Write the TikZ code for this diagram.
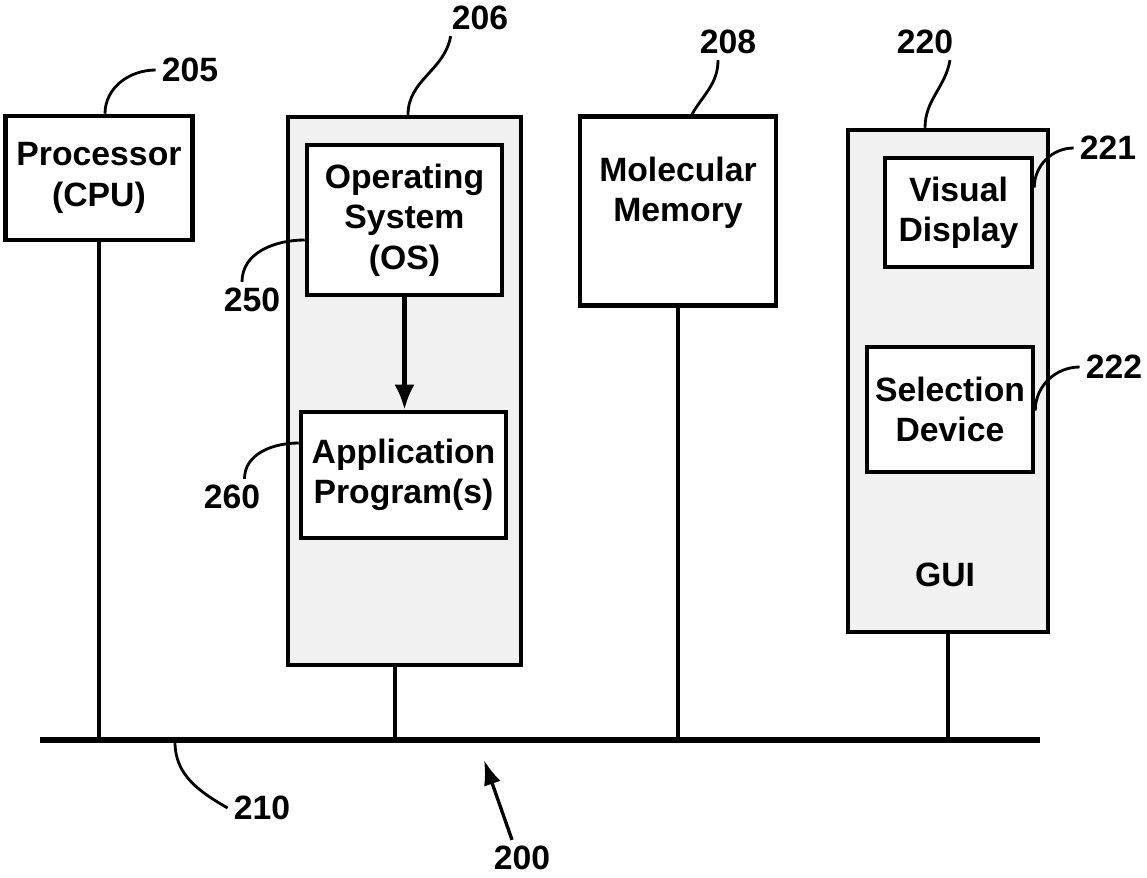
\documentclass[tikz,border=0pt]{standalone}
\usepackage{fontspec}
\setmainfont{Liberation Sans}
\usetikzlibrary{arrows.meta,positioning}

\begin{document}
\begin{tikzpicture}[x=0.02cm,y=-0.02cm,
	every node/.style={font=\fontsize{19.2}{23}\selectfont\bfseries},
	blk/.style={rectangle,draw,line width=2.6pt,fill=white,align=center,inner sep=0pt},
	shell/.style={blk,fill=gray!11},
	drop/.style={line width=1.8pt},
	lead/.style={line width=1.6pt}]
	\useasboundingbox (0,0) rectangle (1147,877);

	% outer boxes
	\node[shell,minimum width=4.66cm,minimum height=10.96cm] (soft) at (404.5,391) {};
	\node[shell,minimum width=4.0cm,minimum height=10.04cm] (gui) at (948,381) {};

	% blocks
	\node[blk,minimum width=3.74cm,minimum height=2.48cm] (cpu) at (99,178) {Processor\\(CPU)};
	\node[blk,minimum width=3.9cm,minimum height=3.0cm] (os) at (404.5,220) {Operating\\System\\(OS)};
	\node[blk,minimum width=4.1cm,minimum height=2.52cm] (app) at (403.5,475) {Application\\Program(s)};
	\node[blk,minimum width=3.92cm,minimum height=3.78cm] (mem) at (678,211) {};
	\node[align=center] (memtxt) at (678,193) {Molecular\\Memory};
	\node[blk,minimum width=2.94cm,minimum height=2.18cm] (disp) at (958.5,212.5) {Visual\\Display};
	\node[blk,minimum width=3.32cm,minimum height=2.5cm] (sel) at (950,409.5) {Selection\\Device};
	\node (guitxt) at (945,575) {GUI};

	% reference numerals
	\node (l205) at (190,70) {205};
	\node (l206) at (480,18) {206};
	\node (l208) at (728,42) {208};
	\node (l220) at (925,42) {220};
	\node (l221) at (1108,148) {221};
	\node (l222) at (1114,367) {222};
	\node (l250) at (252,300) {250};
	\node (l260) at (232,497) {260};
	\node (l210) at (262,808) {210};
	\node (l200) at (522,858) {200};

	% bus
	\coordinate (busL) at (40,740);
	\coordinate (busR) at (1040,740);
	\coordinate (b210) at (175,742);
	\coordinate (b200) at (484,760);
	\draw[line width=3.6pt] (busL) -- (busR);
	\draw[drop] (cpu.south) -- (cpu.south |- busL);
	\draw[drop] ([xshift=-0.19cm]soft.south) -- ([xshift=-0.19cm]soft.south |- busL);
	\draw[drop] (mem.south) -- (mem.south |- busL);
	\draw[drop] (gui.south) -- (gui.south |- busL);

	\draw[line width=2.4pt,-{Latex[length=5mm,width=4mm]}] (os.south) -- (os.south |- app.north);

	% leaders
	\draw[lead] ([xshift=0.12cm]cpu.north) to[out=90,in=180] (l205.west);
	\draw[lead] ([xshift=0.07cm]soft.north) to[out=90,in=-100] ([xshift=0.1cm]l206.south west);
	\draw[lead] ([xshift=0.28cm]mem.north) to[out=60,in=-90] ([xshift=-0.2cm]l208.south);
	\draw[lead] ([xshift=-0.46cm]gui.north) to[out=90,in=-100] ([xshift=0.5cm]l220.south);
	\draw[lead] ([yshift=0.5cm]disp.east) to[out=90,in=180] (l221.west);
	\draw[lead] ([yshift=-0.02cm]sel.east) to[out=90,in=180] (l222.west);
	\draw[lead] ([xshift=-0.2cm]l250.north) to[out=90,in=180] ([yshift=-0.4cm]os.west);
	\draw[lead] ([xshift=0.25cm]l260.north) to[out=90,in=180] ([yshift=0.64cm]app.west);
	\draw[lead] (b210) to[out=-90,in=150] (l210.west);
	\draw[line width=1.9pt,-{Latex[length=5mm,width=3.5mm]}] ([xshift=-0.2cm]l200.north) -- (b200);
\end{tikzpicture}
\end{document}
